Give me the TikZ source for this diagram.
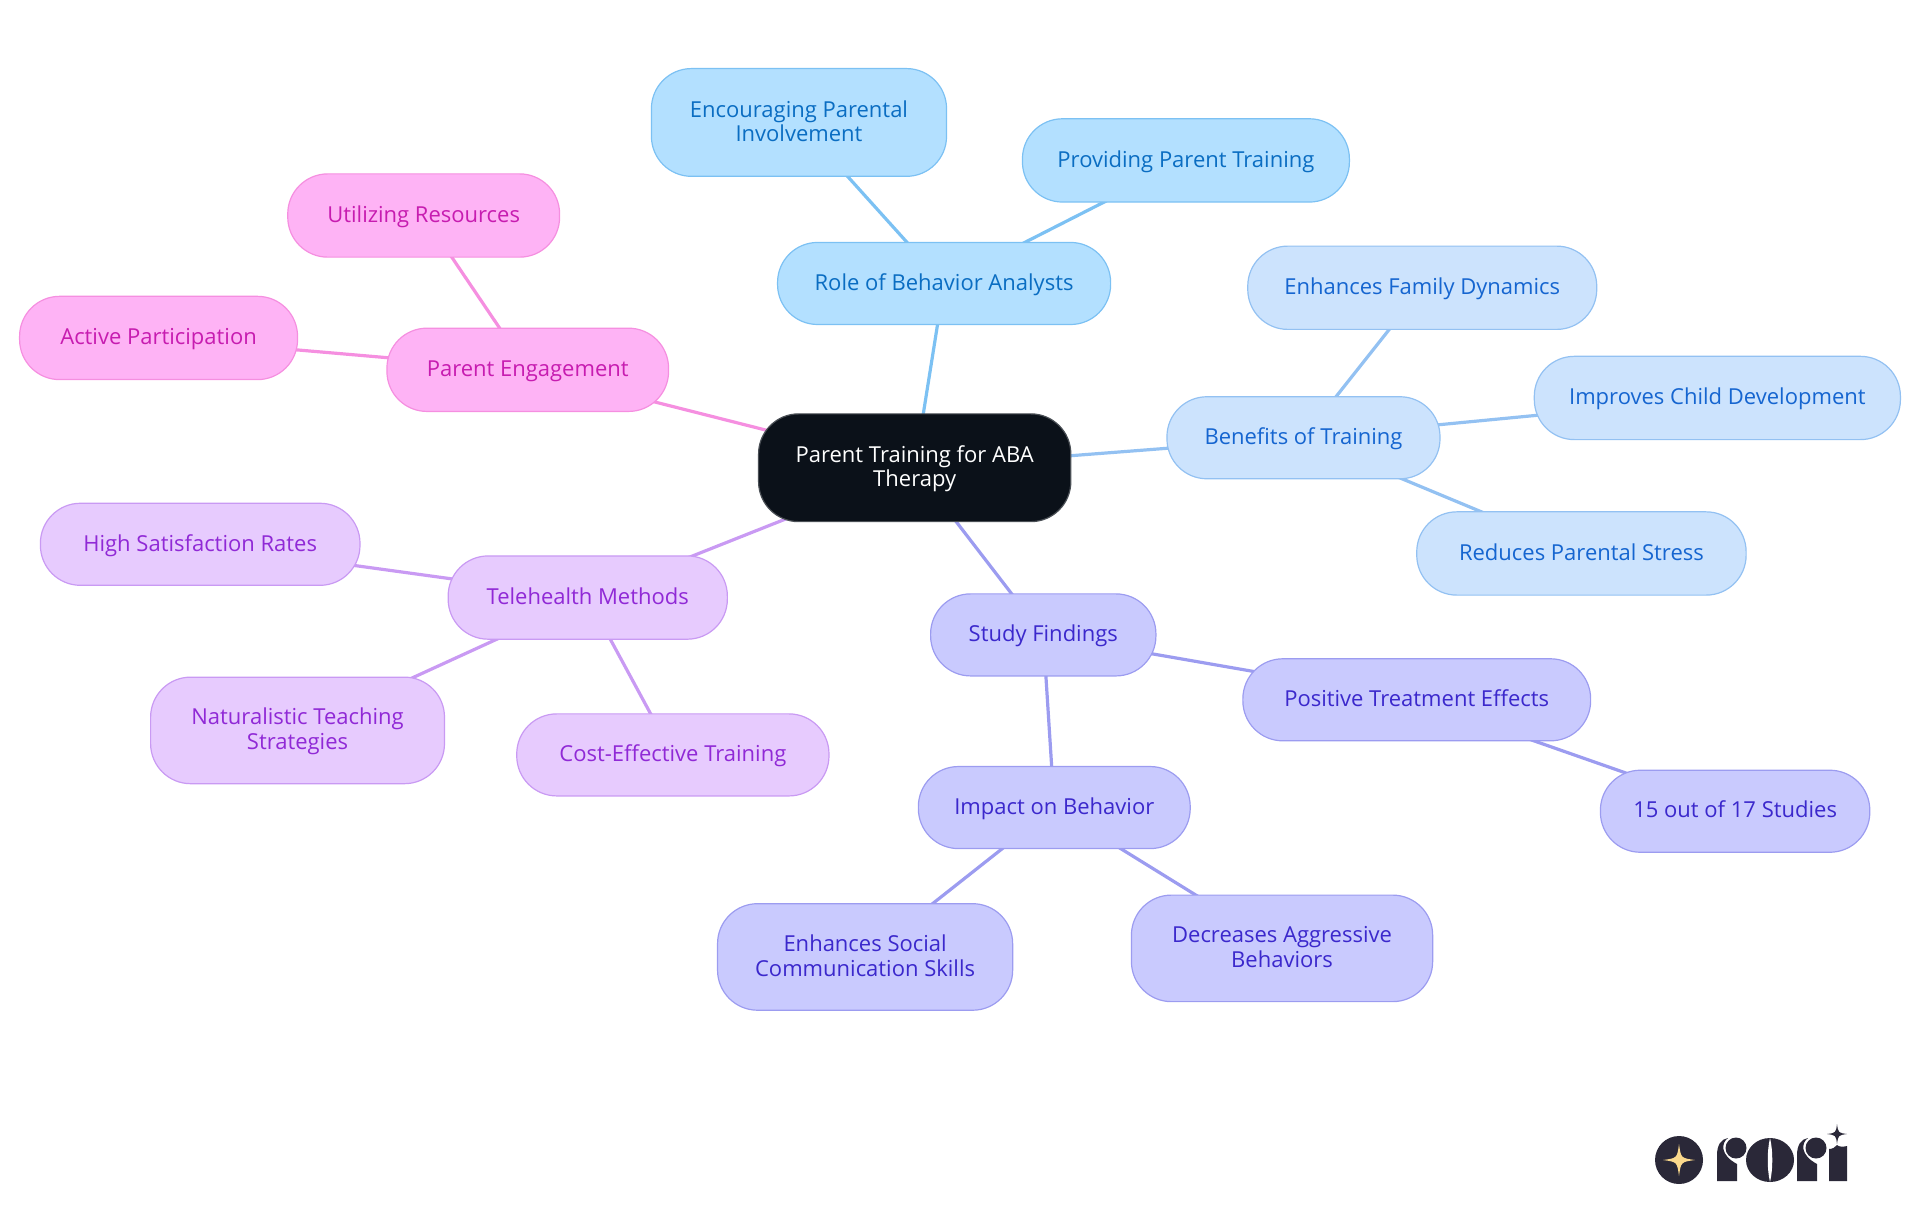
\documentclass[tikz,border=0pt]{standalone}
\usepackage{fontspec}
\setmainfont{Open Sans}
\usetikzlibrary{backgrounds}
\definecolor{rootfill}{HTML}{0B1119}
\definecolor{rootline}{HTML}{4A4F55}
\definecolor{rolefill}{HTML}{B3E0FF}
\definecolor{roleline}{HTML}{7CC1F3}
\definecolor{roletext}{HTML}{0A6DC2}
\definecolor{benefill}{HTML}{CCE3FD}
\definecolor{beneline}{HTML}{93C1F2}
\definecolor{benetext}{HTML}{1565D0}
\definecolor{studyfill}{HTML}{C9CAFE}
\definecolor{studyline}{HTML}{9C9CF0}
\definecolor{studytext}{HTML}{3B28CC}
\definecolor{telefill}{HTML}{E7CBFE}
\definecolor{teleline}{HTML}{C99AF3}
\definecolor{teletext}{HTML}{9029D6}
\definecolor{parentfill}{HTML}{FEB3F5}
\definecolor{parentline}{HTML}{F58FE0}
\definecolor{parenttext}{HTML}{C71CB0}
\definecolor{logodark}{HTML}{2A2838}
\definecolor{logostar}{HTML}{FBD98C}
\newcommand{\unitlen}{0.61224pt}
% pushes a two line text down a little
\newcommand{\toppad}{\rule{0pt}{10.5pt}}
% four pointed star: x, y, radius, colour
\newcommand{\sparkle}[4]{\fill[#4] (#1,#2-#3) .. controls (#1+0.12*#3,#2-0.12*#3) .. (#1+#3,#2) .. controls (#1+0.12*#3,#2+0.12*#3) .. (#1,#2+#3) .. controls (#1-0.12*#3,#2+0.12*#3) .. (#1-#3,#2) .. controls (#1-0.12*#3,#2-0.12*#3) .. (#1,#2-#3) -- cycle;}
% logo r, by its left edge
\newcommand{\logor}[1]{\fill[logodark] (#1,1181) -- (#1,1155) .. controls (#1,1145) and (#1+4,1139) .. (#1+11,1138) .. controls (#1+4,1143) and (#1+3,1155) .. (#1+20,1164) -- (#1+20,1181) -- cycle;
\fill[logodark] (#1+19,1148) circle (10.5);}
\tikzset{
box/.style={draw,line width=0.6pt,rounded corners=20pt,align=center,inner sep=0pt,
  font=\fontsize{11}{12.25}\selectfont,execute at begin node={\rule{0pt}{10.4pt}},execute at end node=\strut},
wh/.style 2 args={minimum width=#1*\unitlen,minimum height=#2*\unitlen},
rootbox/.style={box,fill=rootfill,draw=rootline,text=white},
rolebox/.style={box,fill=rolefill,draw=roleline,text=roletext},
benebox/.style={box,fill=benefill,draw=beneline,text=benetext},
studybox/.style={box,fill=studyfill,draw=studyline,text=studytext},
telebox/.style={box,fill=telefill,draw=teleline,text=teletext},
parentbox/.style={box,fill=parentfill,draw=parentline,text=parenttext},
link/.style={line width=1.6pt},
}
\begin{document}
\begin{tikzpicture}[x=\unitlen,y=-\unitlen]
\useasboundingbox (0,0) rectangle (1568,992.25);
\node[rootbox,wh={255}{88}] (root) at (747,382) {\toppad Parent Training for ABA\\Therapy};
% role of behavior analysts
\node[rolebox,wh={272}{67}] (role) at (771,231.5) {Role of Behavior Analysts};
\node[rolebox,wh={241}{88}] (encourage) at (652.5,100) {\toppad Encouraging Parental\\Involvement};
\node[rolebox,wh={267}{68}] (provide) at (968.5,131) {Providing Parent Training};
% benefits
\node[benebox,wh={223}{67}] (benefits) at (1064.5,357.5) {Benefits of Training};
\node[benebox,wh={285}{68}] (family) at (1161.5,235) {Enhances Family Dynamics};
\node[benebox,wh={299}{68}] (child) at (1402.5,325) {Improves Child Development};
\node[benebox,wh={269}{68}] (stress) at (1291.5,452) {Reduces Parental Stress};
% study findings
\node[studybox,wh={184}{67}] (study) at (852,518.5) {Study Findings};
\node[studybox,wh={284}{67}] (positive) at (1157,571.5) {Positive Treatment Effects};
\node[studybox,wh={220}{67}] (fifteen) at (1417,662.5) {15 out of 17 Studies};
\node[studybox,wh={222}{67}] (impact) at (861,659.5) {Impact on Behavior};
\node[studybox,wh={241}{87}] (social) at (706.5,781.5) {\toppad Enhances Social\\Communication Skills};
\node[studybox,wh={246}{87}] (aggressive) at (1047,774.5) {\toppad Decreases Aggressive\\Behaviors};
% telehealth
\node[telebox,wh={228}{68}] (tele) at (480,488) {Telehealth Methods};
\node[telebox,wh={261}{67}] (satisfaction) at (163.5,444.5) {High Satisfaction Rates};
\node[telebox,wh={240}{87}] (natural) at (243,596.5) {\toppad Naturalistic Teaching\\Strategies};
\node[telebox,wh={255}{67}] (cost) at (549.5,616.5) {Cost-Effective Training};
% parent engagement
\node[parentbox,wh={230}{68}] (engage) at (431,302) {Parent Engagement};
\node[parentbox,wh={222}{68}] (resources) at (346,176) {Utilizing Resources};
\node[parentbox,wh={227}{68}] (active) at (129.5,276) {Active Participation};
\begin{scope}[on background layer={link}]
\draw[roleline] (root.center) -- (role.center);
\draw[roleline] (role.center) -- (encourage.center);
\draw[roleline] (role.center) -- (provide.center);
\draw[beneline] (root.center) -- (benefits.center);
\draw[beneline] (benefits.center) -- (family.center);
\draw[beneline] (benefits.center) -- (child.center);
\draw[beneline] (benefits.center) -- (stress.center);
\draw[studyline] (root.center) -- (study.center);
\draw[studyline] (study.center) -- (positive.center);
\draw[studyline] (positive.center) -- (fifteen.center);
\draw[studyline] (study.center) -- (impact.center);
\draw[studyline] (impact.center) -- (social.center);
\draw[studyline] (impact.center) -- (aggressive.center);
\draw[teleline] (root.center) -- (tele.center);
\draw[teleline] (tele.center) -- (satisfaction.center);
\draw[teleline] (tele.center) -- (natural.center);
\draw[teleline] (tele.center) -- (cost.center);
\draw[parentline] (root.center) -- (engage.center);
\draw[parentline] (engage.center) -- (resources.center);
\draw[parentline] (engage.center) -- (active.center);
\end{scope}
% logo, in pixels of the full size
\begin{scope}[x=0.5pt,y=-0.5pt]
\fill[logodark] (1679,1160) circle (24);
\sparkle{1679}{1160}{16}{logostar}
\logor{1717}
\fill[logodark] (1770,1160) ellipse (24 and 22);
\fill[white] (1770,1138) .. controls (1767,1150) and (1767,1170) .. (1770,1182) .. controls (1773,1170) and (1773,1150) .. (1770,1138) -- cycle;
\logor{1797}
\fill[logodark] (1829,1181) -- (1829,1149) .. controls (1833,1149) and (1835,1147) .. (1837,1145) .. controls (1839,1147) and (1843,1147) .. (1847,1146) -- (1847,1181) -- cycle;
\sparkle{1837}{1134}{10}{logodark}
\end{scope}
\end{tikzpicture}
\end{document}
